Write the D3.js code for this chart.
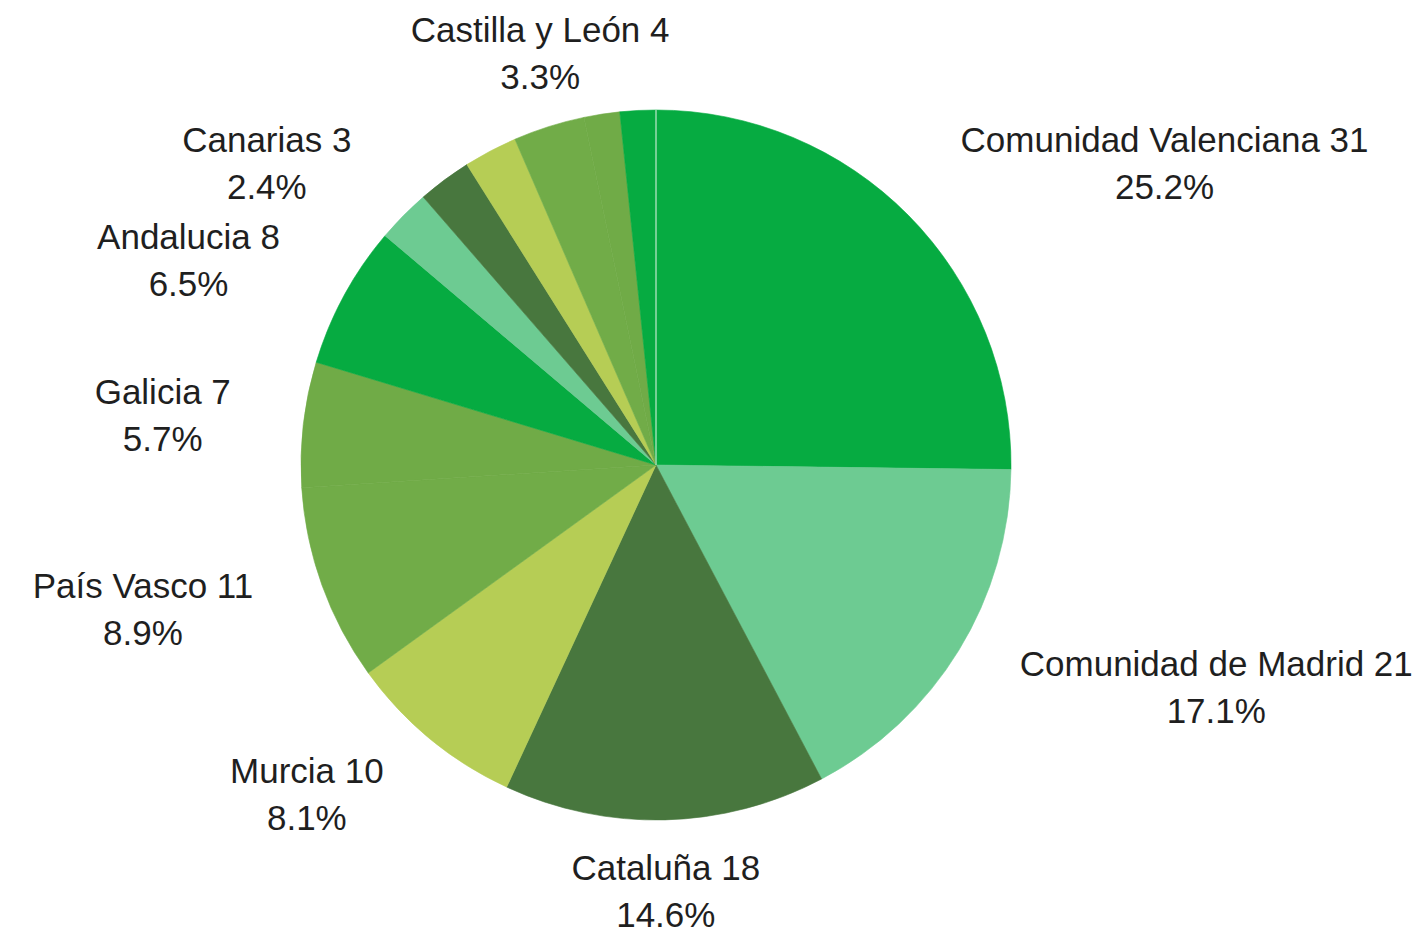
<!DOCTYPE html>
<html>
<head>
<meta charset="utf-8">
<script src="https://cdn.jsdelivr.net/npm/d3@7"></script>
<style>
  html, body { margin: 0; padding: 0; background: #fff; }
  text { font-family: "Liberation Sans", Arial, sans-serif; }
</style>
</head>
<body>
<div id="chart"></div>
<script>
// Slices clockwise from 12 o'clock; unnamed slices carry no label in the source
const categories = ["Comunidad Valenciana", "Comunidad de Madrid", "Cataluña", "Murcia",
    "País Vasco", "Galicia", "Andalucia", "Canarias", "", "", "Castilla y León", "", ""];
const values = [31, 21, 18, 10, 11, 7, 8, 3, 3, 3, 4, 2, 2];
const palette = ["#06ab41", "#6dcb92", "#48773e", "#b6cd55", "#71ac48", "#70ab47"];

const width = 1418;
const height = 930;
const cx = 656, cy = 465;
const radius = 355;

const svg = d3.select('#chart')
    .append('svg')
    .attr('width', width)
    .attr('height', height);

const data = categories.map((c, i) => ({ name: c, value: values[i] }));
const total = d3.sum(values);
const pct = d3.format('.1%');

const pie = d3.pie()
    .sort(null)
    .value(d => d.value);

const arc = d3.arc()
    .innerRadius(0)
    .outerRadius(radius);

const arcs = pie(data);

const g = svg.append('g')
    .attr('transform', `translate(${cx},${cy})`);

g.selectAll('path.slice')
    .data(arcs)
    .enter()
    .append('path')
    .attr('class', 'slice')
    .attr('d', arc)
    .attr('fill', d => palette[d.index % palette.length])
    .attr('stroke', d => palette[d.index % palette.length])
    .attr('stroke-width', 0.6)
    .attr('stroke-linejoin', 'round');

// faint seam where the circle starts
const a0 = arcs[0].startAngle;
g.append('line')
    .attr('x1', 0).attr('y1', 0)
    .attr('x2', radius * Math.sin(a0)).attr('y2', -radius * Math.cos(a0))
    .attr('stroke', '#ffffff')
    .attr('stroke-opacity', 0.6)
    .attr('stroke-width', 1.5);

// Labels: outside, two lines, box edge touches a point on the mid-angle ray
const fontSize = 35;
const lineGap = 47;
const sideR = 428;     // distance to side labels' near edge
const endR = 384;      // distance to top/bottom labels' near edge

const labels = g.selectAll('text.lbl')
    .data(arcs.filter(d => d.data.name !== ''))
    .enter()
    .append('text')
    .attr('class', 'lbl')
    .attr('text-anchor', 'middle')
    .attr('font-size', fontSize)
    .attr('fill', '#1f1f1f');

labels.append('tspan')
    .attr('class', 'l1')
    .text(d => `${d.data.name} ${d.data.value}`);
labels.append('tspan')
    .attr('class', 'l2')
    .text(d => pct(d.data.value / total));

labels.each(function (d) {
    const t = d3.select(this);
    const w = d3.max(t.selectAll('tspan').nodes(), n => n.getComputedTextLength());
    const mid = (d.startAngle + d.endAngle) / 2;
    const s = Math.sin(mid), c = Math.cos(mid);
    let x, b1;
    if (Math.abs(s) >= 0.5) {
        const ax = sideR * s, ay = -sideR * c;
        x = ax + (s > 0 ? w / 2 : -w / 2);
        b1 = ay - 12;
    } else {
        const ax = endR * s, ay = -endR * c;
        x = ax;
        b1 = c < 0 ? ay + 31 : ay - 57;
    }
    t.select('.l1').attr('x', x).attr('y', b1);
    t.select('.l2').attr('x', x).attr('y', b1 + lineGap);
});
</script>
</body>
</html>
